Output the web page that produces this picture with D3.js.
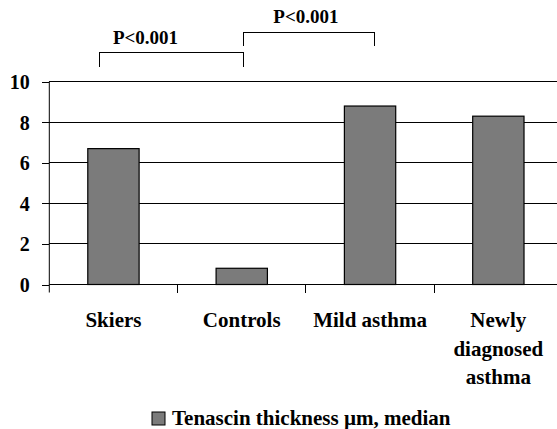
<!DOCTYPE html>
<html>
<head>
<meta charset="utf-8">
<script src="https://cdn.jsdelivr.net/npm/d3@7"></script>
<style>
  svg#fig text, svg#fig tspan { font-family: 'Liberation Serif', 'Times New Roman', serif !important; font-weight: bold !important; }
</style>
</head>
<body style="margin:0;padding:0;background:#fff">
<svg id="fig" width="557" height="429" style="display:block"></svg>
<script>
// ---- data ----
const categories = ["Skiers", "Controls", "Mild asthma", "Newly diagnosed asthma"];
const categoryLines = [["Skiers"], ["Controls"], ["Mild asthma"], ["Newly", "diagnosed", "asthma"]];
const tenascinMedian = [6.7, 0.8, 8.8, 8.3];
const yTicks = [0, 2, 4, 6, 8, 10];
const seriesName = "Tenascin thickness \u00b5m, median";
// significance brackets: category index positions (fractional) and heights in data units
const brackets = [
  { from: -0.11, to: 1.01, top: 11.45, bottom: 10.74, label: "P<0.001", labelAt: 0.25, labelY: 11.84 },
  { from: 1.01, to: 2.036, top: 12.44, bottom: 11.78, label: "P<0.001", labelAt: 1.5, labelY: 12.88 }
];

// ---- layout ----
const FONT = "font-family:'Liberation Serif','Times New Roman',serif !important;font-weight:bold !important;";
const svg = d3.select("#fig");
const plotLeft = 49.3, plotStep = 128.3;
const plotRight = plotLeft + categories.length * plotStep;
const plotTop = 81.7, plotBottom = 284.5;

const x = d3.scaleBand().domain(categories).range([plotLeft, plotRight])
  .paddingInner(0.6).paddingOuter(0.3);
const xi = d3.scaleLinear().domain([0, 1])
  .range([x(categories[0]) + x.bandwidth() / 2, x(categories[1]) + x.bandwidth() / 2]);
const y = d3.scaleLinear().domain([0, 10]).range([plotBottom, plotTop]);

// gridlines
svg.append("g").selectAll("line").data(yTicks.filter(d => d > 0)).join("line")
  .attr("x1", plotLeft).attr("x2", plotRight)
  .attr("y1", d => y(d)).attr("y2", d => y(d))
  .attr("stroke", "#000").attr("stroke-width", 1).attr("shape-rendering", "crispEdges");

// y axis
const yAxis = d3.axisLeft(y).tickValues(yTicks).tickSize(7.6).tickPadding(12).tickFormat(d3.format("d"));
const gy = svg.append("g").attr("transform", `translate(${plotLeft},0)`).call(yAxis);
gy.attr("font-family", "Liberation Serif").attr("font-size", 20).attr("font-weight", "bold");
gy.select(".domain").attr("d", `M0,${plotTop}V${plotBottom + 8}`).attr("stroke", "#000");
gy.selectAll(".tick line").attr("stroke", "#000").attr("shape-rendering", "crispEdges");
gy.selectAll(".tick text").attr("dy", "0.34em").attr("fill", "#000")
  .attr("font-family", "Liberation Serif").attr("font-weight", "bold")
  .attr("style", FONT + "font-size:20px");

// x axis baseline and category boundary ticks
svg.append("line").attr("x1", plotLeft).attr("x2", plotRight).attr("y1", plotBottom).attr("y2", plotBottom)
  .attr("stroke", "#000").attr("stroke-width", 1.2);
const boundaries = d3.range(1, categories.length + 1).map(i => x(categories[i - 1]) + x.bandwidth() + x.step() * x.paddingInner() / 2);
svg.append("g").selectAll("line").data(boundaries).join("line")
  .attr("x1", d => d).attr("x2", d => d).attr("y1", plotBottom).attr("y2", plotBottom + 8)
  .attr("stroke", "#000").attr("shape-rendering", "crispEdges");

// bars
svg.append("g").selectAll("rect").data(tenascinMedian).join("rect")
  .attr("x", (d, i) => x(categories[i]))
  .attr("y", d => y(d))
  .attr("width", x.bandwidth())
  .attr("height", d => y(0) - y(d))
  .attr("fill", "#7b7b7b").attr("stroke", "#000").attr("stroke-width", 1.2);

// category labels
const lab = svg.append("g").selectAll("text").data(categoryLines).join("text")
  .attr("x", (d, i) => x(categories[i]) + x.bandwidth() / 2)
  .attr("y", 327).attr("text-anchor", "middle")
  .attr("font-family", "Liberation Serif").attr("font-weight", "bold")
  .attr("style", FONT + "font-size:21px");
lab.selectAll("tspan").data(d => d).join("tspan")
  .attr("x", function () { return d3.select(this.parentNode).attr("x"); })
  .attr("dy", (d, i) => i === 0 ? 0 : 28.5).text(d => d);

// brackets
svg.append("g").selectAll("path").data(brackets).join("path")
  .attr("d", b => `M${xi(b.from)},${y(b.bottom)}V${y(b.top)}H${xi(b.to)}V${y(b.bottom)}`)
  .attr("fill", "none").attr("stroke", "#000").attr("stroke-width", 1).attr("shape-rendering", "crispEdges");
svg.append("g").selectAll("text").data(brackets).join("text")
  .attr("x", b => xi(b.labelAt)).attr("y", b => y(b.labelY))
  .attr("text-anchor", "middle")
  .attr("font-family", "Liberation Serif").attr("font-weight", "bold")
  .attr("style", FONT + "font-size:19px").text(b => b.label);

// legend
const lg = svg.append("g").attr("transform", "translate(152,412)");
lg.append("rect").attr("width", 13).attr("height", 13)
  .attr("fill", "#7b7b7b").attr("stroke", "#000").attr("stroke-width", 1);
lg.append("text").attr("x", 20).attr("y", 13)
  .attr("font-family", "Liberation Serif").attr("font-weight", "bold")
  .attr("style", FONT + "font-size:21px").text(seriesName);
</script>
</body>
</html>
